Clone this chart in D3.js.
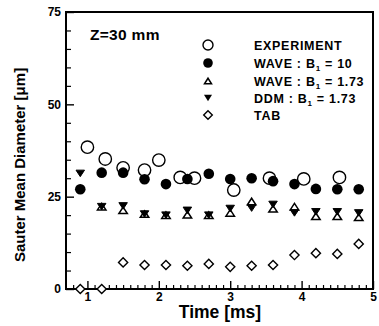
<!DOCTYPE html>
<html><head><meta charset="utf-8">
<script src="https://cdn.jsdelivr.net/npm/d3@7"></script>
<style>
body{margin:0;background:#fff;}
svg{display:block;font-family:"Liberation Sans",Arial,Helvetica,sans-serif;}
</style></head>
<body><svg id="c" width="379" height="326"></svg>
<script>
// ---- data ----
const modelTimes = [0.9,1.2,1.5,1.8,2.1,2.4,2.7,3.0,3.3,3.6,3.9,4.2,4.5,4.8];
const expTimes   = [1.0,1.25,1.5,1.8,2.0,2.3,2.5,3.05,3.55,4.03,4.53];
const experiment = [38.4,35.2,32.8,32.2,34.9,30.2,30.0,26.8,30.0,29.8,30.2];
const waveB10    = [27.0,31.5,31.5,29.7,28.4,29.8,31.2,29.8,30.0,29.2,28.4,27.1,27.0,27.0];
const waveB173   = [null,22.3,21.3,20.3,20.0,20.1,20.0,20.6,23.7,21.7,22.3,19.7,19.7,19.4];
const ddmB173    = [31.3,22.3,22.5,20.3,20.0,21.3,20.0,21.8,21.9,22.9,20.6,20.9,20.9,20.6];
const tab        = [0,0,7.2,6.5,6.5,6.3,6.8,6.0,6.3,6.5,9.2,9.7,9.5,12.2];
const xTicks = [1,2,3,4,5];
const yTicks = [0,25,50,75];
const legendLabels = [["EXPERIMENT",null,null],["WAVE : B","1"," = 10"],["WAVE : B","1"," = 1.73"],["DDM : B","1"," = 1.73"],["TAB",null,null]];

// ---- layout ----
const svg = d3.select("#c");
const L=66, R=373, T=12, B=289;
const x = d3.scaleLinear().domain([0.7,5]).range([L,R]);
const y = d3.scaleLinear().domain([0,75]).range([B,T]);

const minorX = d3.range(8,50).map(d=>d/10).filter(d=>Math.abs(d-Math.round(d))>1e-6);
const minorY = d3.range(0,76,5).filter(d=>d%25!==0);

// minor ticks
svg.append("g").attr("transform",`translate(0,${B})`)
  .call(d3.axisBottom(x).tickValues(minorX).tickSize(-4).tickFormat(""))
  .call(g=>g.select(".domain").remove())
  .selectAll("line").attr("stroke","#000").attr("stroke-width",1.2);
svg.append("g").attr("transform",`translate(${L},0)`)
  .call(d3.axisLeft(y).tickValues(minorY).tickSize(-5).tickFormat(""))
  .call(g=>g.select(".domain").remove())
  .selectAll("line").attr("stroke","#000").attr("stroke-width",1.2);

// major axes
const xa = svg.append("g").attr("transform",`translate(0,${B})`)
  .call(d3.axisBottom(x).tickValues(xTicks).tickSize(-8).tickPadding(3).tickFormat(d3.format("d")));
const ya = svg.append("g").attr("transform",`translate(${L},0)`)
  .call(d3.axisLeft(y).tickValues(yTicks).tickSize(-8).tickPadding(5).tickFormat(d3.format("d")));
[xa,ya].forEach(a=>{
  a.select(".domain").remove();
  a.selectAll("line").attr("stroke","#000").attr("stroke-width",1.4);
  a.selectAll("text").attr("fill","#000").attr("font-size",12).attr("font-weight","bold")
   .attr("font-family","Liberation Sans, Arial, sans-serif");
});

// frame
svg.append("rect").attr("x",L).attr("y",T).attr("width",R-L).attr("height",B-T)
  .attr("fill","none").attr("stroke","#000").attr("stroke-width",2);

// symbols
const triUp = (w,h)=>`M0,${-h/2}L${w/2},${h/2}L${-w/2},${h/2}Z`;
const triDn = (w,h)=>`M0,${h/2}L${w/2},${-h/2}L${-w/2},${-h/2}Z`;
const diamond = r=>`M0,${-r}L${r},0L0,${r}L${-r},0Z`;

const pts = (times,vals)=>times.map((t,i)=>({t,v:vals[i]})).filter(d=>d.v!==null);
const plot = svg.append("g");

// TAB
plot.selectAll(".tab").data(pts(modelTimes,tab)).join("path")
  .attr("d",diamond(4.6)).attr("transform",d=>`translate(${x(d.t)},${y(d.v)})`)
  .attr("fill","#fff").attr("stroke","#000").attr("stroke-width",1.4);
// experiment
plot.selectAll(".exp").data(pts(expTimes,experiment)).join("circle")
  .attr("cx",d=>x(d.t)).attr("cy",d=>y(d.v)).attr("r",6.2)
  .attr("fill","none").attr("stroke","#000").attr("stroke-width",1.4);
// WAVE B1=1.73 open up triangles
plot.selectAll(".wu").data(pts(modelTimes,waveB173)).join("path")
  .attr("d",triUp(8.5,6.5)).attr("transform",d=>`translate(${x(d.t)},${y(d.v)})`)
  .attr("fill","#fff").attr("stroke","#000").attr("stroke-width",1.5);
// DDM filled down triangles
plot.selectAll(".dd").data(pts(modelTimes,ddmB173)).join("path")
  .attr("d",triDn(8.5,6.5)).attr("transform",d=>`translate(${x(d.t)},${y(d.v)})`)
  .attr("fill","#000").attr("stroke","#000").attr("stroke-width",1);
// WAVE B1=10 filled circles
plot.selectAll(".wf").data(pts(modelTimes,waveB10)).join("circle")
  .attr("cx",d=>x(d.t)).attr("cy",d=>y(d.v)).attr("r",5.3).attr("fill","#000");

// label Z=30 mm
svg.append("text").attr("x",90).attr("y",39.5).attr("font-size",15.5).attr("font-weight","bold")
  .attr("letter-spacing",0.3).text("Z=30 mm");

// legend
const legY=[45,63,81,98,115], symX=208, txtX=254;
const leg = svg.append("g");
leg.append("circle").attr("cx",symX).attr("cy",legY[0]).attr("r",5).attr("fill","none").attr("stroke","#000").attr("stroke-width",1.4);
leg.append("circle").attr("cx",symX).attr("cy",legY[1]).attr("r",4.8).attr("fill","#000");
leg.append("path").attr("d",triUp(7,5.5)).attr("transform",`translate(${symX},${legY[2]})`).attr("fill","#fff").attr("stroke","#000").attr("stroke-width",1.5);
leg.append("path").attr("d",triDn(8,6.5)).attr("transform",`translate(${symX},${legY[3]})`).attr("fill","#000");
leg.append("path").attr("d",diamond(4.3)).attr("transform",`translate(${symX},${legY[4]})`).attr("fill","#fff").attr("stroke","#000").attr("stroke-width",1.4);
legendLabels.forEach((l,i)=>{
  const t = leg.append("text").attr("x",txtX).attr("y",legY[i]+4.5).attr("font-size",12.5)
    .attr("font-weight","bold").attr("letter-spacing",0.7);
  t.append("tspan").text(l[0]);
  if(l[1]){
    t.append("tspan").attr("font-size",8).attr("dy",3).text(l[1]);
    t.append("tspan").attr("dy",-3).text(l[2]);
  }
});

// axis titles
svg.append("text").attr("x",220).attr("y",318).attr("text-anchor","middle")
  .attr("font-size",17.5).attr("font-weight","bold").text("Time [ms]");
svg.append("text").attr("transform","translate(25,165) rotate(-90)").attr("text-anchor","middle")
  .attr("font-size",15).attr("font-weight","bold").text("Sauter Mean Diameter [\u03bcm]");
</script></body></html>
